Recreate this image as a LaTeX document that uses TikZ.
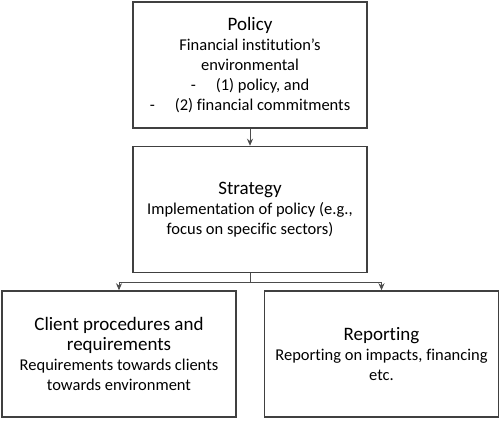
\documentclass[tikz,border=0pt]{standalone}
\usepackage{fontspec}
\setmainfont{Carlito}[RawFeature={-liga;-clig;-calt;-dlig}]
\usepackage{tikz}
\usetikzlibrary{arrows.meta}
\usetikzlibrary{shapes}
\usetikzlibrary{calc}

\tikzset{
  stage/.style={draw=black!75, line width=1.5pt, rectangle, minimum width=234pt,
    minimum height=126pt, align=center, inner sep=2pt, font=\fontsize{16.5}{20.2}\selectfont},
  link/.style={draw=black!70, line width=0.8pt, -{Stealth[length=7pt,width=6pt]}}
}
\newcommand{\stagetitle}[1]{{\fontsize{19}{21}\selectfont #1}}

\begin{document}
\begin{tikzpicture}[node distance=144.5pt, x=1pt, y=1pt]
        \useasboundingbox (0,0) rectangle (500,-420);
        % Nodes for stages
        \node[stage] (policy) at (250,-65) {\stagetitle{Policy}\\
            Financial institution’s\\ environmental\\
            -\hspace{20pt}(1) policy, and\\
            -\hspace{20pt}(2) financial commitments};
        \node[stage, below of=policy] (strategy) {\stagetitle{Strategy}\\
            Implementation of policy (e.g.,\\ focus on specific sectors)};
        \node[stage, below of=strategy, xshift=-131pt] (client) {\stagetitle{Client procedures and}\\
            \stagetitle{requirements}\\
            Requirements towards clients\\ towards environment};
        \node[stage, below of=strategy, xshift=131.5pt] (reporting) {\stagetitle{Reporting}\\
            Reporting on impacts, financing\\ etc.};
        \coordinate (split) at ($(strategy.south)+(0,-9)$);

        % Edges between stages
        \draw[link] (policy) -- (strategy);
        \draw[draw=black!70, line width=0.8pt] (strategy) -- (split);
        \draw[link] (split) -| (client);
        \draw[link] (split) -| (reporting);
    \end{tikzpicture}
\end{document}
